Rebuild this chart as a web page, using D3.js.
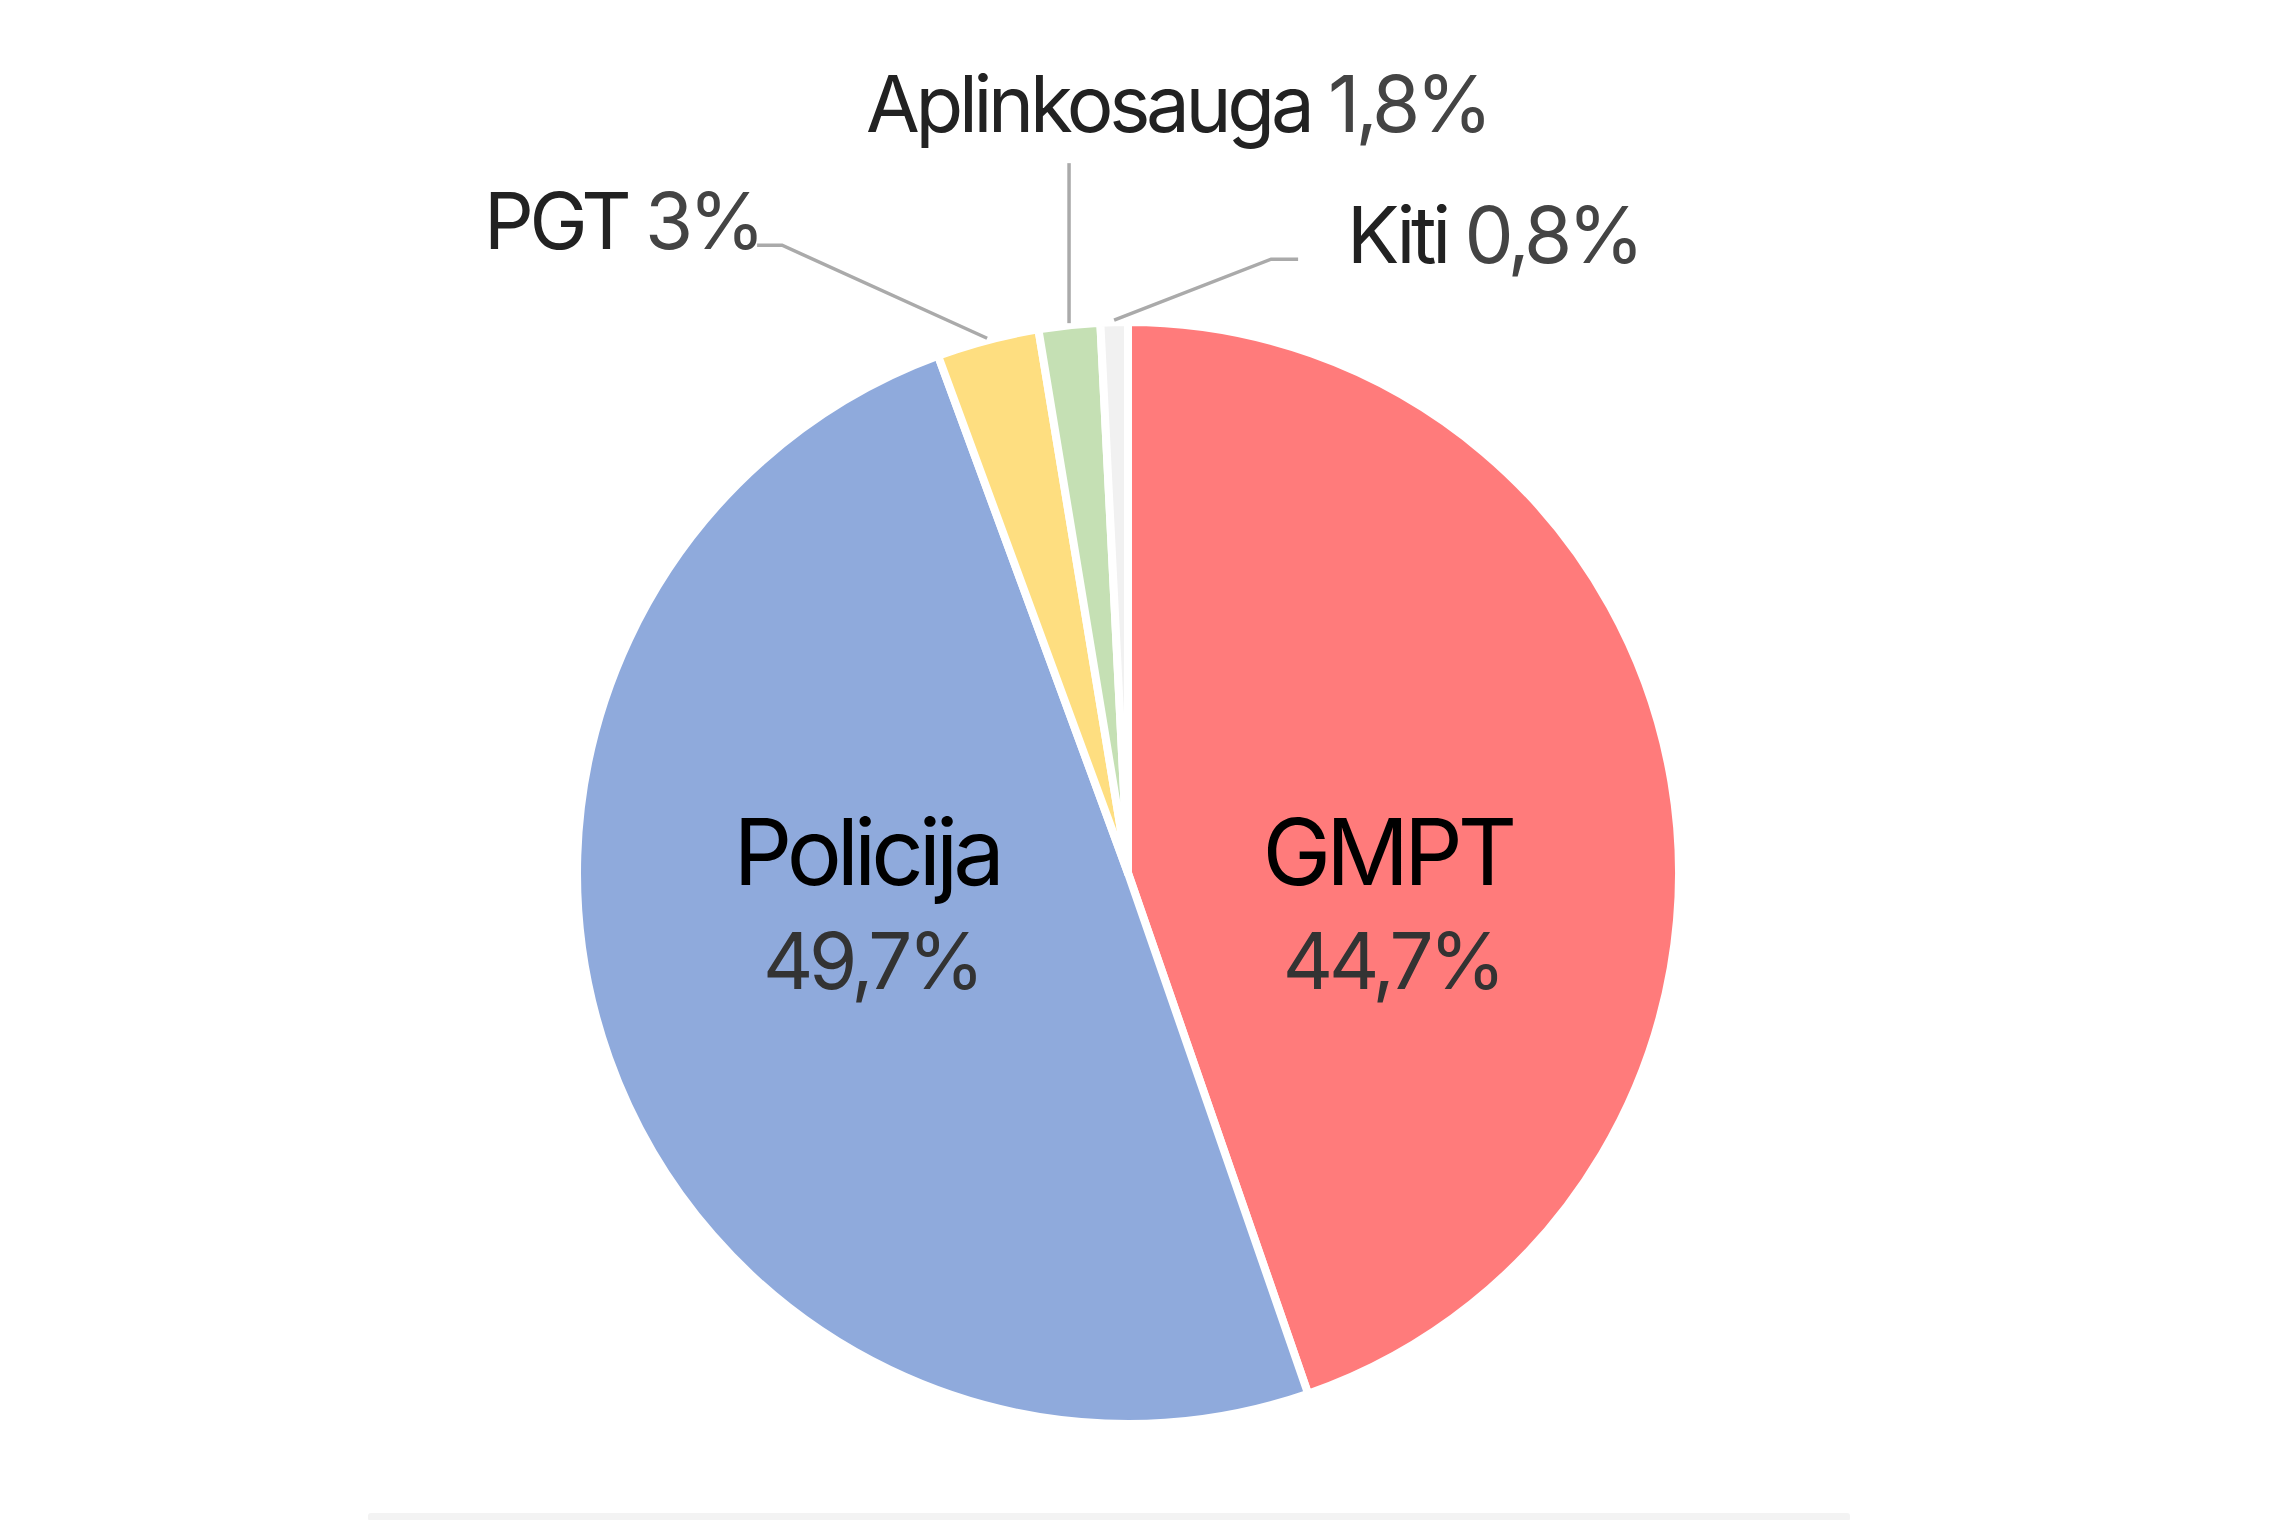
<!DOCTYPE html>
<html>
<head>
<meta charset="utf-8">
<script src="https://cdn.jsdelivr.net/npm/d3@7"></script>
<style>
  html, body { margin: 0; padding: 0; background: #fff; }
  svg { display: block; font-family: Inter, "Noto Sans", sans-serif; }
</style>
</head>
<body>
<script>
// data
var categories = ["GMPT", "Policija", "PGT", "Aplinkosauga", "Kiti"];
var shares = [44.7, 49.7, 3, 1.8, 0.8];
var shareLabels = ["44,7%", "49,7%", "3%", "1,8%", "0,8%"];
var sliceColors = ["#ff7b7b", "#8faadc", "#fede80", "#c5e0b4", "#f1f1f1"];

// sizes
var width = 2280, height = 1520;
var cx = 1128, cy = 873, radius = 551;
var tight = "-0.055em";

// how outside labels are laid out (offsets from slice edge)
var outside = {
  "PGT":          {elbow: [-205, -93], tail: -25, anchor: "end",    tdx: 4,   tdy: 4},
  "Aplinkosauga": {elbow: [0, -160],   tail: 0,   anchor: "middle", tdx: 108, tdy: -31},
  "Kiti":         {elbow: [157, -61],  tail: 27,  anchor: "start",  tdx: 76,  tdy: 4}
};

var svg = d3.select("body").append("svg")
  .attr("width", width)
  .attr("height", height);

var g = svg.append("g").attr("transform", "translate(" + cx + "," + cy + ")");

var pie = d3.pie().sort(null).value(function(d) { return d; });
var arcs = pie(shares);

var arc = d3.arc().innerRadius(0).outerRadius(radius);

g.selectAll("path.slice").data(arcs).enter()
  .append("path")
  .attr("class", "slice")
  .attr("d", arc)
  .attr("fill", function(d, i) { return sliceColors[i]; })
  .attr("stroke", "#fff")
  .attr("stroke-width", 8)
  .attr("stroke-linejoin", "round");

// inside labels for the two big slices
arcs.forEach(function(d, i) {
  var name = categories[i];
  if (outside[name]) return;
  var mid = (d.startAngle + d.endAngle) / 2;
  var r = radius * 0.49;
  var x = Math.sin(mid) * r;
  g.append("text")
    .attr("x", x - 7).attr("y", 12)
    .attr("text-anchor", "middle")
    .attr("font-size", 92)
    .attr("letter-spacing", tight)
    .attr("fill", "#000")
    .text(name);
  g.append("text")
    .attr("x", x - 2).attr("y", 116)
    .attr("text-anchor", "middle")
    .attr("font-size", 78)
    .attr("letter-spacing", tight)
    .attr("fill", "#333")
    .text(shareLabels[i]);
});

// outside labels with leader lines
arcs.forEach(function(d, i) {
  var name = categories[i];
  var o = outside[name];
  if (!o) return;
  var mid = (d.startAngle + d.endAngle) / 2;
  var p0 = [Math.sin(mid) * (radius + 2), -Math.cos(mid) * (radius + 2)];
  var p1 = [p0[0] + o.elbow[0], p0[1] + o.elbow[1]];
  var p2 = [p1[0] + o.tail, p1[1]];
  g.append("path")
    .attr("d", d3.line()([p0, p1, p2]))
    .attr("fill", "none")
    .attr("stroke", "#aaa")
    .attr("stroke-width", 3.5);
  var tx = (o.anchor === "end" ? p2[0] : p1[0]) + o.tdx;
  var t = g.append("text")
    .attr("x", tx).attr("y", p1[1] + o.tdy)
    .attr("text-anchor", o.anchor)
    .attr("font-size", 78)
    .attr("letter-spacing", tight)
    .attr("fill", "#222");
  t.append("tspan").text(name + " ");
  t.append("tspan").attr("fill", "#444").text(shareLabels[i]);
});

// faint footer rule
svg.append("rect")
  .attr("x", 368).attr("y", 1513)
  .attr("width", 1482).attr("height", 8)
  .attr("rx", 3)
  .attr("fill", "#f3f3f3");
</script>
</body>
</html>
